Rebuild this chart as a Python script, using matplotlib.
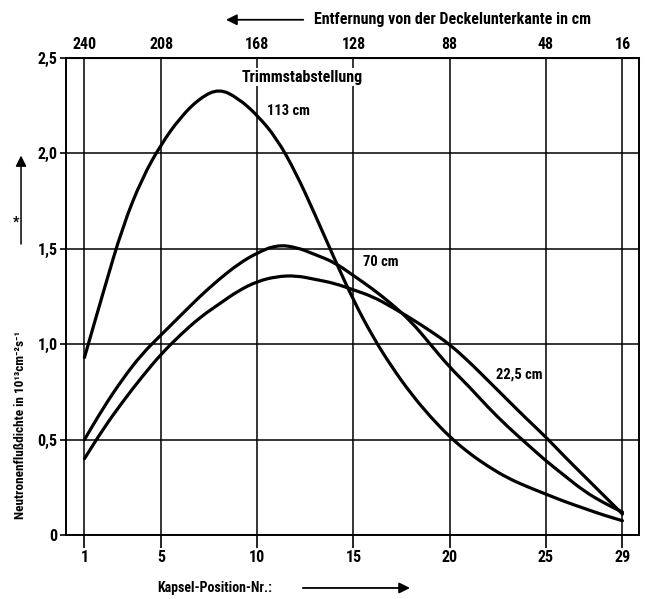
import matplotlib
matplotlib.use("Agg")
import matplotlib.pyplot as plt
from matplotlib.path import Path
from matplotlib.patches import PathPatch, FancyArrowPatch

plt.rcParams['font.family'] = ['Roboto Condensed', 'Liberation Sans Narrow', 'Roboto', 'DejaVu Sans']
plt.rcParams['font.weight'] = 'bold'

# Kapsel-Positionen 1..29
positionen = list(range(1, 30))

# Neutronenflussdichte je Trimmstabstellung
fluss_113 = [0.93, 1.28, 1.62, 1.87, 2.05, 2.19, 2.29, 2.34, 2.29, 2.20,
             2.08, 1.90, 1.68, 1.45, 1.23, 1.04, 0.88, 0.74, 0.62, 0.515,
             0.43, 0.36, 0.30, 0.255, 0.215, 0.175, 0.14, 0.105, 0.075]
fluss_70 = [0.50, 0.67, 0.82, 0.95, 1.05, 1.15, 1.25, 1.34, 1.42, 1.48,
            1.52, 1.51, 1.47, 1.43, 1.36, 1.29, 1.21, 1.12, 1.00, 0.88,
            0.78, 0.67, 0.57, 0.48, 0.39, 0.31, 0.23, 0.17, 0.12]
fluss_225 = [0.40, 0.56, 0.70, 0.83, 0.95, 1.05, 1.14, 1.21, 1.28, 1.33,
             1.355, 1.36, 1.34, 1.32, 1.285, 1.25, 1.195, 1.135, 1.07, 1.00,
             0.91, 0.81, 0.71, 0.61, 0.515, 0.41, 0.31, 0.21, 0.11]

x_ticks = [1, 5, 10, 15, 20, 25, 29]
top_labels = ['240', '208', '168', '128', '88', '48', '16']
y_ticks = [0, 0.5, 1.0, 1.5, 2.0, 2.5]
y_labels = ['0', '0,5', '1,0', '1,5', '2,0', '2,5']


def glatte_kurve(ax, xs, ys):
    # Punkte als Kontrollpunkte eines quadratischen Bezier-Pfads
    pts = list(zip(xs, ys))
    verts = [pts[0], ((pts[0][0] + pts[1][0]) / 2, (pts[0][1] + pts[1][1]) / 2)]
    codes = [Path.MOVETO, Path.LINETO]
    for i in range(1, len(pts) - 1):
        mid = ((pts[i][0] + pts[i + 1][0]) / 2, (pts[i][1] + pts[i + 1][1]) / 2)
        verts += [pts[i], mid]
        codes += [Path.CURVE3, Path.CURVE3]
    verts.append(pts[-1])
    codes.append(Path.LINETO)
    ax.add_patch(PathPatch(Path(verts, codes), fill=False, edgecolor='black',
                           lw=2.3, capstyle='round', joinstyle='round', zorder=3))


fig = plt.figure(figsize=(6.47, 5.99), dpi=100)
ax = fig.add_axes([0.102, 0.1068, 0.8856, 0.7963])

for y in (fluss_113, fluss_70, fluss_225):
    glatte_kurve(ax, positionen, y)

ax.set_xlim(0.04, 29.86)
ax.set_ylim(0, 2.5)
ax.set_xticks(x_ticks)
ax.set_yticks(y_ticks)
ax.set_yticklabels(y_labels)
ax.grid(True, color='black', lw=1.1)
for s in ax.spines.values():
    s.set_linewidth(1.4)
ax.tick_params(axis='x', direction='out', length=9, width=1.2, pad=2, labelsize=11.5)
ax.tick_params(axis='y', direction='out', length=4, width=1.2, pad=2, labelsize=11.5)

sec = ax.secondary_xaxis('top')
sec.set_xticks(x_ticks)
sec.set_xticklabels(top_labels)
sec.tick_params(length=0, pad=4, labelsize=11.5)

# Beschriftungen der Kurven
ax.text(9.2, 2.40, 'Trimmstabstellung', fontsize=11.5, va='center', zorder=4,
        bbox=dict(facecolor='white', edgecolor='none', pad=1))
ax.text(10.5, 2.22, '113 cm', fontsize=10.5, va='center')
ax.text(15.5, 1.43, '70 cm', fontsize=10.5, va='center')
ax.text(22.4, 0.84, '22,5 cm', fontsize=10.5, va='center')

# Achsenbeschriftungen mit Pfeilen
fig.text(0.3315, 0.0184, 'Kapsel-Position-Nr.:', fontsize=10, ha='center', va='center')
fig.patches.append(FancyArrowPatch(
    (0.4637, 0.0184), (0.638, 0.0184), transform=fig.transFigure,
    arrowstyle='-|>', mutation_scale=16, color='black', lw=1.3))

fig.text(0.485, 0.967, 'Entfernung von der Deckelunterkante in cm', fontsize=11.5,
         ha='left', va='center')
fig.patches.append(FancyArrowPatch(
    (0.473, 0.967), (0.345, 0.967), transform=fig.transFigure,
    arrowstyle='-|>', mutation_scale=16, color='black', lw=1.3))

fig.text(0.031, 0.291, 'Neutronenflußdichte in 10¹³cm⁻²s⁻¹', fontsize=9.5,
         rotation=90, ha='center', va='center')
fig.patches.append(FancyArrowPatch(
    (0.0325, 0.588), (0.0325, 0.745), transform=fig.transFigure,
    arrowstyle='-|>', mutation_scale=16, color='black', lw=1.1))
fig.text(0.024, 0.629, '*', fontsize=10, ha='center', va='center')

fig.savefig('out.png', dpi=100)
